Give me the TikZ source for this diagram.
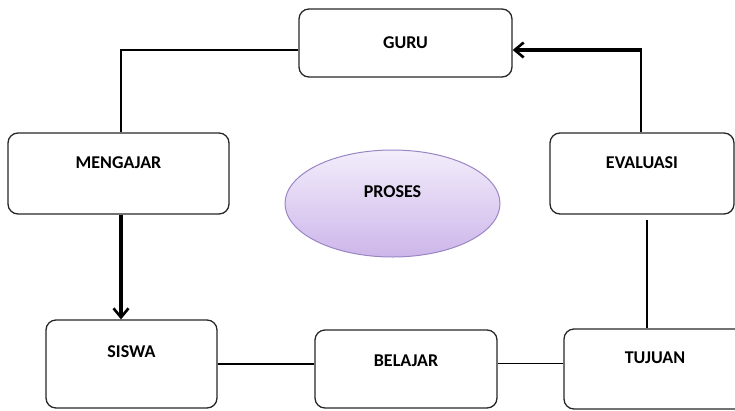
\documentclass[tikz,border=0pt]{standalone}
\usepackage{fontspec}
\setmainfont{Carlito}
\usetikzlibrary{arrows.meta,shapes.geometric}

\definecolor{boxline}{HTML}{262626}
\definecolor{prosestop}{HTML}{F3EDFB}
\definecolor{prosesbot}{HTML}{CDB6EA}
\definecolor{prosesline}{HTML}{9A86C4}

\tikzset{
 box/.style={draw=boxline, line width=1.3pt, rounded corners=10pt, inner sep=0pt},
 word/.style={font=\fontsize{18}{21}\selectfont\bfseries, text=black},
 link/.style={draw=black, line width=1.1pt},
 flow/.style={draw=black, line width=3.2pt, -{Straight Barb[length=9pt,width=15pt,line width=2.6pt]}}
}

\begin{document}
\begin{tikzpicture}[x=1pt,y=-1pt]
 \useasboundingbox (0,0) rectangle (735,410);
 \clip (0,0) rectangle (735,410);

 %boxes on the ring
 \node[box, minimum width=213pt, minimum height=68pt] (guru) at (405.5,43) {};
 \node[box, minimum width=221pt, minimum height=81pt] (mengajar) at (118.5,173.5) {};
 \node[box, minimum width=184pt, minimum height=81pt] (evaluasi) at (642,173.5) {};
 \node[box, minimum width=171pt, minimum height=88pt] (siswa) at (131.5,364) {};
 \node[box, minimum width=182pt, minimum height=78pt] (belajar) at (406,369) {};
 \node[box, minimum width=182pt, minimum height=80pt] (tujuan) at (655,369) {};

 %ellipse in the middle
 \node[ellipse, draw=prosesline, line width=1pt, top color=prosestop, bottom color=prosesbot,
  minimum width=215pt, minimum height=107pt, inner sep=0pt] (proses) at (392.5,203.5) {};

 %texts of the boxes
 \node[word] (guru-t) at (guru.center) {GURU};
 \node[word] (mengajar-t) at ([yshift=10.5pt]mengajar.center) {MENGAJAR};
 \node[word] (evaluasi-t) at ([yshift=10.5pt]evaluasi.center) {EVALUASI};
 \node[word] (siswa-t) at ([yshift=12.5pt]siswa.center) {SISWA};
 \node[word] (belajar-t) at ([yshift=8.5pt]belajar.center) {BELAJAR};
 \node[word] (tujuan-t) at ([yshift=11pt]tujuan.center) {TUJUAN};
 \node[word] (proses-t) at ([yshift=11.5pt]proses.center) {PROSES};

 %connectors
 \coordinate (gw) at ([yshift=-7pt]guru.west);
 \coordinate (ge) at ([yshift=-7pt]guru.east);
 \coordinate (ec) at ([xshift=-1pt]evaluasi.north |- ge);
 \draw[link] ([xshift=2.5pt]mengajar.north) |- (gw);
 \draw[link] ([xshift=-1pt]evaluasi.north) -- ([yshift=-1pt]ec);
 \draw[flow] ([xshift=0.5pt]ec) -- (ge);
 \draw[flow] ([xshift=2.5pt]mengajar.south) -- ([xshift=2.5pt]mengajar.south |- siswa.north);
 \draw[link] ([xshift=5pt,yshift=-5pt]evaluasi.south) -- ([xshift=5pt]evaluasi.south |- tujuan.north);
 \draw[link] (siswa.east) -- (siswa.east -| belajar.west);
 \draw[link] ([yshift=5.5pt]belajar.east) -- ([yshift=5.5pt]belajar.east -| tujuan.west);
\end{tikzpicture}
\end{document}
